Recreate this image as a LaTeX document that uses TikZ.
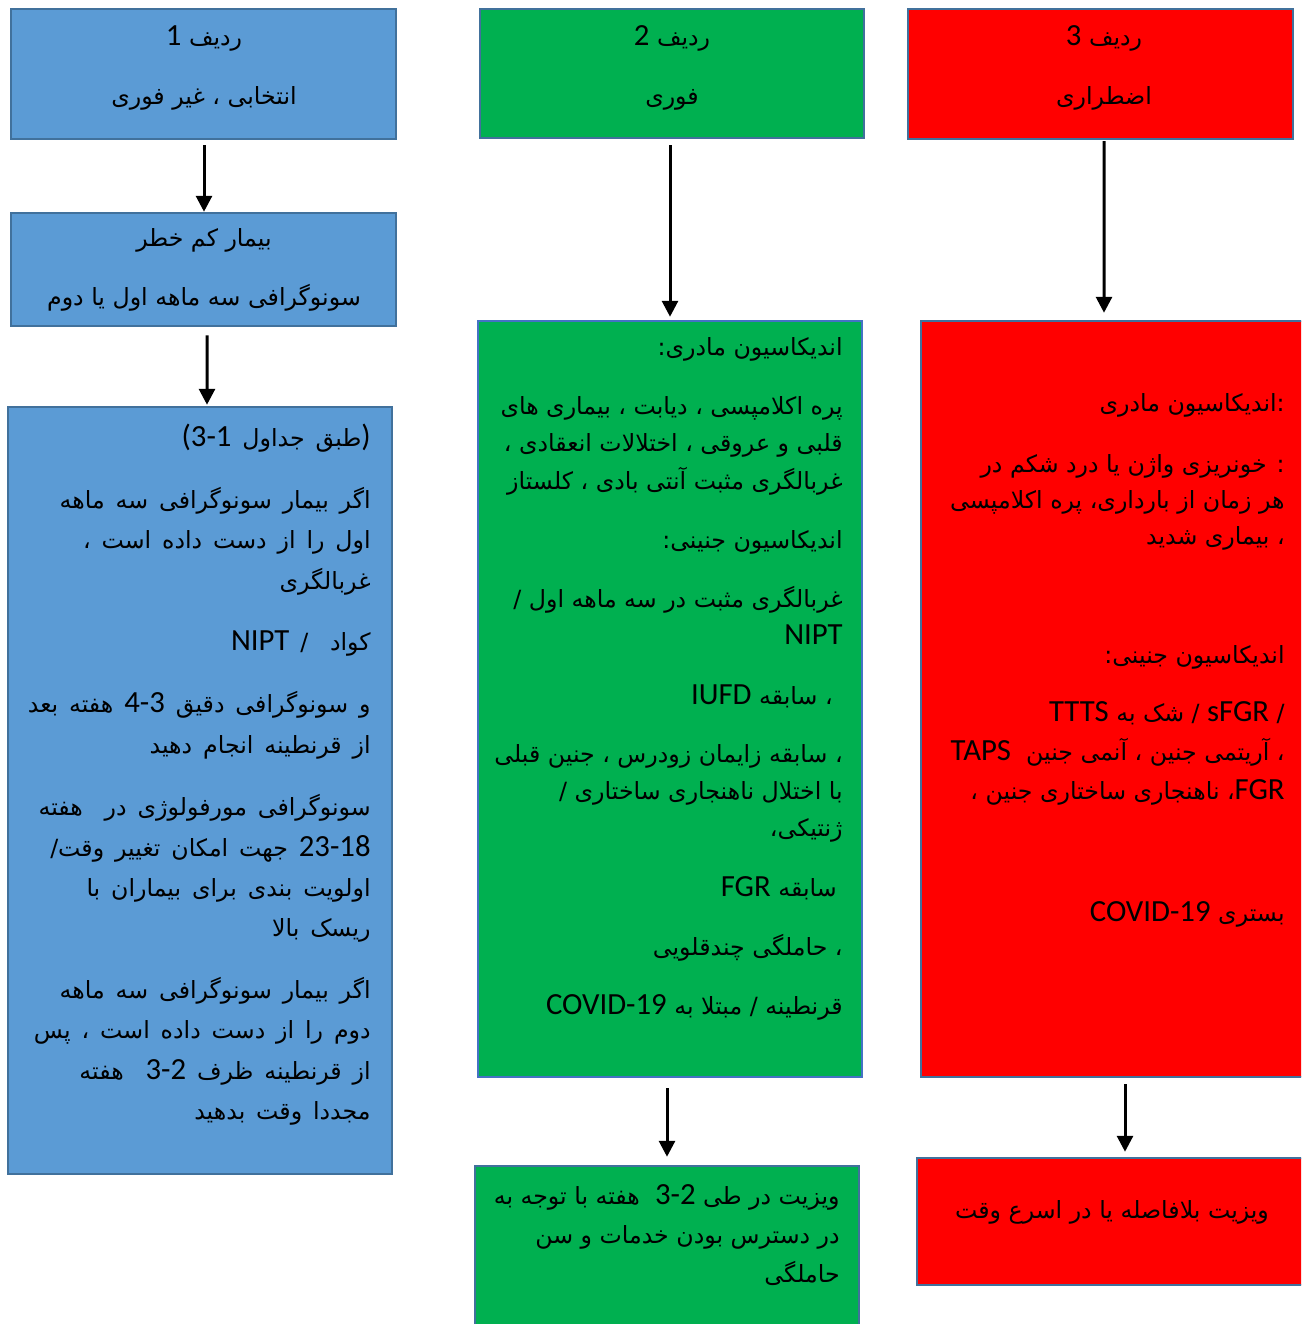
\documentclass[tikz,border=0pt]{standalone}
\usepackage{fontspec}
\setmainfont{Carlito}
\newfontfamily\fafont[Script=Arabic,Scale=0.77]{DejaVu Sans}
\TeXXeTstate=1
\usetikzlibrary{arrows.meta,fit}
\definecolor{blueF}{HTML}{5B9BD5}
\definecolor{greenF}{HTML}{00B050}
\definecolor{redF}{HTML}{FF0000}
\definecolor{boxline}{HTML}{41719C}
\definecolor{boxlineB}{HTML}{4472C4}
\newcommand\rtl[1]{\beginR#1\endR}
\newcommand\lat[1]{\beginL{\rmfamily#1}\endL}
\newcommand\widesp{\spaceskip=6.2pt\relax}
\begin{document}
\begin{tikzpicture}[x=0.02cm,y=-0.02cm,
  box/.style={draw=boxline,line width=0.05cm,inner sep=0pt},
  txt/.style={align=right,inner sep=0pt,font=\fontsize{17.5}{23}\selectfont\fafont},
  arr/.style={line width=0.06cm,-{Triangle[width=0.32cm,length=0.32cm]}}]
  \useasboundingbox (0,0) rectangle (1301,1324);
  \clip (0,0) rectangle (1301,1324);
  % Row 1
  \node[box,fill=blueF,fit={(11,9) (396,139)}] (a1) {};
  \node[txt,align=center] (a1t) at (204,68) {\rtl{ردیف \lat{1}}\\[0.38cm]\rtl{انتخابی ، غیر فوری}};
  \node[box,fill=blueF,fit={(11,213) (396,326)}] (b1) {};
  \node[txt,align=center] (b1t) at (204,270) {\rtl{بیمار کم خطر}\\[0.38cm]\rtl{سونوگرافی سه ماهه اول یا دوم}};
  \node[box,fill=blueF,fit={(8,407) (392,1174)}] (c1) {};
  \node[txt,anchor=north east,font=\fontsize{17.5}{23}\selectfont\fafont\widesp] (c1t) at (371,424) {%
    \rtl{\lat{)}طبق جداول \lat{(3-1}}\\[0.42cm]
    \rtl{اگر بیمار سونوگرافی سه ماهه}\\
    \rtl{اول را از دست داده است ،}\\
    \rtl{غربالگری}\\[0.42cm]
    \rtl{کواد\ \ / \lat{NIPT}}\\[0.44cm]
    \rtl{و سونوگرافی دقیق \lat{4-3} هفته بعد}\\
    \rtl{از قرنطینه انجام دهید}\\[0.44cm]
    \rtl{سونوگرافی مورفولوژی در\ \ هفته}\\
    \rtl{\lat{23-18} جهت امکان تغییر وقت/}\\
    \rtl{اولویت بندی برای بیماران با}\\
    \rtl{ریسک بالا}\\[0.42cm]
    \rtl{اگر بیمار سونوگرافی سه ماهه}\\
    \rtl{دوم را از دست داده است ، پس}\\
    \rtl{از قرنطینه ظرف \lat{3-2}\ \ هفته}\\
    \rtl{مجددا وقت بدهید}};
  % Row 2
  \node[box,fill=greenF,fit={(480,9) (864,138)}] (a2) {};
  \node[txt,align=center] (a2t) at (672,68) {\rtl{ردیف \lat{2}}\\[0.38cm]\rtl{فوری}};
  \node[box,draw=boxlineB,fill=greenF,fit={(478,321) (862,1077)}] (b2) {};
  \node[txt,anchor=north east,font=\fontsize{17.5}{21.2}\selectfont\fafont] (b2t) at (843,337) {%
    \rtl{اندیکاسیون مادری:}\\[0.44cm]
    \rtl{پره اکلامپسی ، دیابت ، بیماری های}\\
    \rtl{قلبی و عروقی ، اختلالات انعقادی ،}\\
    \rtl{غربالگری مثبت آنتی بادی ، کلستاز}\\[0.44cm]
    \rtl{اندیکاسیون جنینی:}\\[0.44cm]
    \rtl{غربالگری مثبت در سه ماهه اول /}\\
    \rtl{\lat{NIPT}}\\[0.44cm]
    \rtl{، سابقه \lat{IUFD}}\hspace*{0.2cm}\null\\[0.42cm]
    \rtl{، سابقه زایمان زودرس ، جنین قبلی}\\
    \rtl{با اختلال ناهنجاری ساختاری /}\\
    \rtl{ژنتیکی،}\\[0.44cm]
    \rtl{سابقه \lat{FGR}}\hspace*{0.12cm}\null\\[0.44cm]
    \rtl{، حاملگی چندقلویی}\\[0.44cm]
    \rtl{قرنطینه / مبتلا به \lat{COVID-19}}};
  \node[box,fill=greenF,fit={(475,1166) (859,1340)}] (c2) {};
  \node[txt,anchor=north east,font=\fontsize{17.5}{22.2}\selectfont\fafont] (c2t) at (840,1184) {%
    \rtl{ویزیت در طی \lat{3-2}\ \ هفته با توجه به}\\
    \rtl{در دسترس بودن خدمات و سن}\\
    \rtl{حاملگی}};
  % Row 3
  \node[box,fill=redF,fit={(908,9) (1293,139)}] (a3) {};
  \node[txt,align=center] (a3t) at (1104,68) {\rtl{ردیف \lat{3}}\\[0.38cm]\rtl{اضطراری}};
  \node[box,fill=redF,fit={(921,321) (1310,1077)}] (b3) {};
  \node[txt,anchor=north east,font=\fontsize{17.5}{20.6}\selectfont\fafont] (b3t) at (1285,393) {%
    \rtl{:اندیکاسیون مادری}\\[0.5cm]
    \rtl{: خونریزی واژن یا درد شکم در}\\
    \rtl{هر زمان از بارداری، پره اکلامپسی}\\
    \rtl{، بیماری شدید}\\[1.64cm]
    \rtl{اندیکاسیون جنینی:}\\[0.44cm]
    \rtl{/ \lat{sFGR} / شک به \lat{TTTS}}\\[0.07cm]
    \rtl{، آریتمی جنین ، آنمی جنین\ \ \lat{TAPS}}\\[0.05cm]
    \rtl{\lat{FGR}، ناهنجاری ساختاری جنین ،}\\[1.72cm]
    \rtl{بستری \lat{COVID-19}}};
  \node[box,fill=redF,fit={(917,1158) (1310,1285)}] (c3) {};
  \node[txt] (c3t) at (1112,1212) {\rtl{ویزیت بلافاصله یا در اسرع وقت}};
  % Arrows
  \draw[arr] ([shift={(0.5,5)}]a1.south) -- ([shift={(0.5,0)}]b1.north);
  \draw[arr] ([shift={(3.5,8)}]b1.south) -- ([shift={(7,-1)}]c1.north);
  \draw[arr] ([shift={(-2,6)}]a2.south) -- ([shift={(0,-3)}]b2.north);
  \draw[arr] ([shift={(3.5,1)}]a3.south) -- ([shift={(-11.5,-7)}]b3.north);
  \draw[arr] ([shift={(-3,10)}]b2.south) -- ([shift={(0,-8)}]c2.north);
  \draw[arr] ([shift={(9.5,6)}]b3.south) -- ([shift={(11.5,-5)}]c3.north);
\end{tikzpicture}
\end{document}
